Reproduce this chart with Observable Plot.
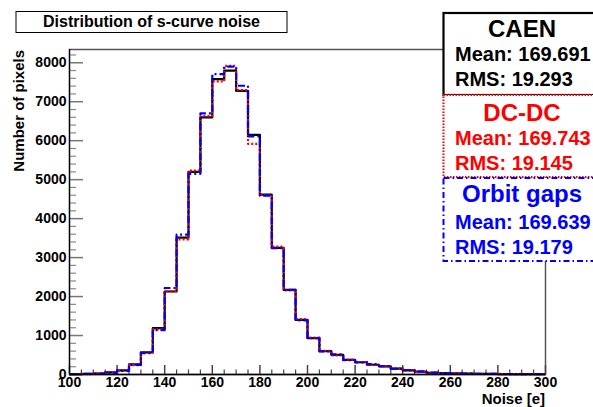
<!DOCTYPE html>
<html><head><meta charset="utf-8">
<script src="https://cdn.jsdelivr.net/npm/d3@7"></script>
<script src="https://cdn.jsdelivr.net/npm/@observablehq/plot@0.6"></script>
<style>
body{margin:0;background:#fff;font-family:"Liberation Sans",Arial,Helvetica,sans-serif;}
#wrap{position:relative;width:593px;height:407px;overflow:hidden;background:#fff;}
#wrap svg{position:absolute;left:0;top:0;}
</style></head><body><div id="wrap"></div>
<script>
// ---- data ----
const binEdges = [100,105,110,115,120,125,130,135,140,145,150,155,160,165,170,175,180,185,190,195,
                  200,205,210,215,220,225,230,235,240,245,250,255,260,265,270,275,280,285,290,295];
const xEnd = 300;
const caen  = [10,15,25,55,105,260,570,1190,2130,3510,5200,6600,7580,7800,7280,6150,4615,3250,2170,1400,
               935,600,505,375,315,250,210,150,105,70,45,35,28,22,18,15,12,10,8,7];
const dcdc  = [8,12,28,50,100,240,560,1160,2140,3470,5230,6630,7520,7920,7300,5920,4600,3280,2160,1420,
               950,610,490,380,320,255,205,155,100,75,48,32,30,20,17,14,11,9,8,6];
const orbit = [12,14,20,40,95,245,550,1140,2220,3590,5150,6700,7710,7900,7410,6110,4590,3240,2175,1390,
               930,590,520,370,310,265,215,145,115,80,50,38,25,24,16,15,13,9,9,8];
const yMajorTicks = [0,1000,2000,3000,4000,5000,6000,7000,8000];
const yMinorTicks = [200,400,600,800,1200,1400,1600,1800,2200,2400,2600,2800,3200,3400,3600,3800,
                     4200,4400,4600,4800,5200,5400,5600,5800,6200,6400,6600,6800,7200,7400,7600,7800,8200];
const xMajorTicks = [100,120,140,160,180,200,220,240,260,280,300];
const xMinorTicks = [105,110,115,125,130,135,145,150,155,165,170,175,185,190,195,205,210,215,
                     225,230,235,245,250,255,265,270,275,285,290,295];
const seriesNames  = ["CAEN","DC-DC","Orbit gaps"];
const seriesColors = ["#000000","#ff0000","#0000ff"];
const seriesDash   = [null,"2,2","7,3,2,3"];
const seriesMeans  = ["169.691","169.743","169.639"];
const seriesRMS    = ["19.293","19.145","19.179"];
const titleText = "Distribution of s-curve noise";
const xTitle = "Noise [e]";
const yTitle = "Number of pixels";

// ---- build ----
const W = 593, H = 407, mL = 69, mR = 48, mT = 49, mB = 33;
const innerW = W - mL - mR, innerH = H - mT - mB;
const FONT = '"Liberation Sans",Arial,Helvetica,sans-serif';
const allSeries = [caen, dcdc, orbit];
function steps(vals) {
  const pts = binEdges.map((x, i) => ({x, y: vals[i]}));
  pts.push({x: xEnd, y: vals[vals.length - 1]});
  return pts;
}

const chart = Plot.plot({
  width: W, height: H,
  marginLeft: mL, marginRight: mR, marginTop: mT, marginBottom: mB,
  x: {domain: [100, 300]},
  y: {domain: [0, 8340]},
  style: {fontFamily: FONT, background: "white", color: "black", overflow: "visible"},
  marks: [
    Plot.frame({stroke: "#555", strokeWidth: 1.5}),
    Plot.tickY(yMinorTicks, {y: d => d, insetRight: innerW - 7, stroke: "#888", strokeWidth: 1.2}),
    Plot.tickY(yMajorTicks, {y: d => d, insetRight: innerW - 14, stroke: "#777", strokeWidth: 1.5}),
    Plot.tickX(xMinorTicks, {x: d => d, insetTop: innerH - 4.5, stroke: "#444", strokeWidth: 1.2}),
    Plot.tickX(xMajorTicks, {x: d => d, insetTop: innerH - 9, stroke: "#444", strokeWidth: 1.5}),
    ...allSeries.map((vals, i) => Plot.line(steps(vals), {
      x: "x", y: "y", curve: "step-after",
      stroke: seriesColors[i], strokeWidth: i === 0 ? 2.2 : 2.2,
      strokeDasharray: seriesDash[i], strokeLinecap: "butt"
    })),
    Plot.ruleX([100], {stroke: "black", strokeWidth: 1.2}),
    Plot.ruleY([0], {stroke: "black", strokeWidth: 1.6}),
    Plot.axisY({ticks: yMajorTicks, tickSize: 0, tickPadding: 3, label: null,
                fontSize: 14, fontWeight: "bold", tickFormat: d => String(d)}),
    Plot.axisX({ticks: xMajorTicks, tickSize: 0, tickPadding: 3, label: null,
                fontSize: 14, fontWeight: "bold", tickFormat: d => String(d)})
  ]
});
document.getElementById("wrap").appendChild(chart);

// ---- overlay: title, axis titles, stat boxes ----
const ov = d3.select("#wrap").append("svg")
  .attr("width", W).attr("height", H)
  .style("font-family", FONT).style("font-weight", "bold");

ov.append("rect").attr("x", 16).attr("y", 11.5).attr("width", 271).attr("height", 21)
  .attr("fill", "white").attr("stroke", "black").attr("stroke-width", 1);
ov.append("text").attr("x", 151.5).attr("y", 27).attr("text-anchor", "middle")
  .attr("font-size", 16).text(titleText);

ov.append("text").attr("x", 545).attr("y", 404).attr("text-anchor", "end")
  .attr("font-size", 15).text(xTitle);
ov.append("text").attr("transform", "translate(24,50) rotate(-90)").attr("text-anchor", "end")
  .attr("font-size", 15).text(yTitle);

const boxTop = [13, 95, 178], boxBot = [95, 177, 261];
const base = [[37, 61, 86], [120.5, 145, 170], [201.5, 229, 254]];
seriesNames.forEach((name, i) => {
  ov.append("rect").attr("x", 443.5).attr("y", boxTop[i]).attr("width", 170)
    .attr("height", boxBot[i] - boxTop[i]).attr("fill", "white")
    .attr("stroke", seriesColors[i]).attr("stroke-width", i === 0 ? 2.2 : 2)
    .attr("stroke-dasharray", i === 0 ? null : (i === 1 ? "1.5,1.5" : "6,3,1.5,3"));
  ov.append("text").attr("x", 522).attr("y", base[i][0]).attr("text-anchor", "middle")
    .attr("font-size", 24).attr("fill", seriesColors[i]).text(name);
  ov.append("text").attr("x", 455).attr("y", base[i][1])
    .attr("font-size", 20).attr("fill", seriesColors[i]).text("Mean: " + seriesMeans[i]);
  ov.append("text").attr("x", 455).attr("y", base[i][2])
    .attr("font-size", 20).attr("fill", seriesColors[i]).text("RMS: " + seriesRMS[i]);
});
</script></body></html>
